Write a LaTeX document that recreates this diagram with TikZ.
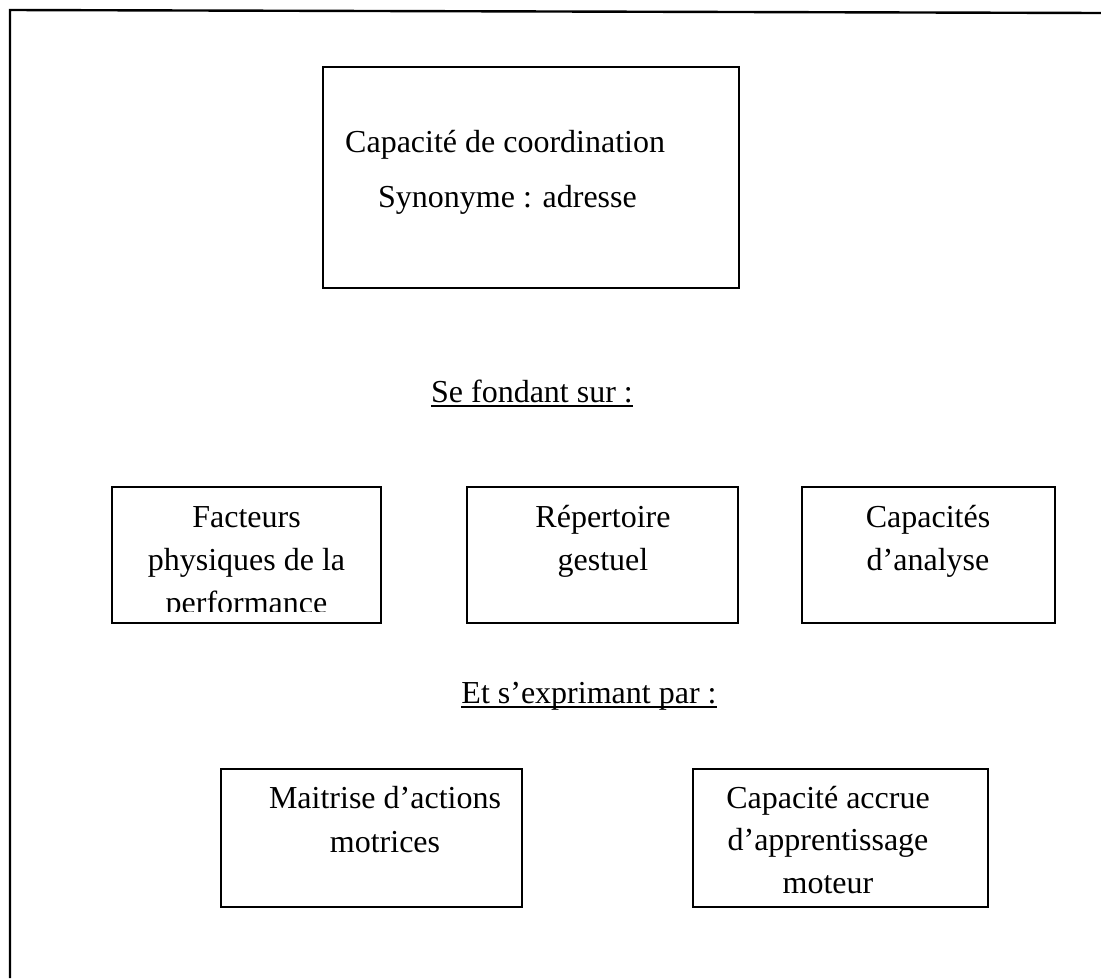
\documentclass[tikz,border=0pt]{standalone}
\usepackage{fontspec}
\setmainfont{Liberation Serif}
\begin{document}
\begin{tikzpicture}[x=1pt,y=-1pt,
  box/.style={draw,line width=2pt,inner sep=0pt},
  txt/.style={inner sep=0pt,font=\fontsize{32}{42}\selectfont},
  uline/.style={line width=2pt}]
\useasboundingbox (0,0) rectangle (1101,978);
% frame
\coordinate (f1) at (10,978);
\coordinate (f2) at (10,10);
\coordinate (f3) at (1101,13);
\draw[line width=2.4pt] (f1) -- (f2) -- (f3);
% top box
\node[box,minimum width=416pt,minimum height=221pt] (top) at (531,177.5) {};
\node[txt,anchor=base west] (t1) at (345,152) {Capacité de coordination};
\node[txt,anchor=base west] (t2) at (378,207) {Synonyme : adresse};
% Se fondant sur
\node[txt,anchor=base] (se) at (532,402) {Se fondant sur :};
\draw[uline] ([yshift=-4pt]se.base west) -- ([yshift=-4pt]se.base east);
% middle boxes
\node[box,minimum width=269pt,minimum height=136pt] (fac) at (246.5,555) {};
\begin{scope}
\clip (112,487) rectangle (381,611);
\node[txt,anchor=base] (fa1) at (246.5,527) {Facteurs};
\node[txt,anchor=base] (fa2) at (246.5,570) {physiques de la};
\node[txt,anchor=base] (fa3) at (246.5,613) {performance};
\end{scope}
\node[box,minimum width=271pt,minimum height=136pt] (rep) at (602.5,555) {};
\node[txt,anchor=base] (re1) at (603,527) {Répertoire};
\node[txt,anchor=base] (re2) at (603,570) {gestuel};
\node[box,minimum width=253pt,minimum height=136pt] (ana) at (928.5,555) {};
\node[txt,anchor=base] (an1) at (928,527) {Capacités};
\node[txt,anchor=base] (an2) at (928,570) {d’analyse};
% Et s'exprimant par
\node[txt,anchor=base] (et) at (589,703) {Et s’exprimant par :};
\draw[uline] ([yshift=-4pt]et.base west) -- ([yshift=-4pt]et.base east);
% bottom boxes
\node[box,minimum width=301pt,minimum height=138pt] (mai) at (371.5,838) {};
\node[txt,anchor=base] (ma1) at (385,808) {Maitrise d’actions};
\node[txt,anchor=base] (ma2) at (385,852) {motrices};
\node[box,minimum width=295pt,minimum height=138pt] (acc) at (840.5,838) {};
\node[txt,anchor=base] (ac1) at (828,808) {Capacité accrue};
\node[txt,anchor=base] (ac2) at (828,850) {d’apprentissage};
\node[txt,anchor=base] (ac3) at (828,893) {moteur};
\end{tikzpicture}
\end{document}
